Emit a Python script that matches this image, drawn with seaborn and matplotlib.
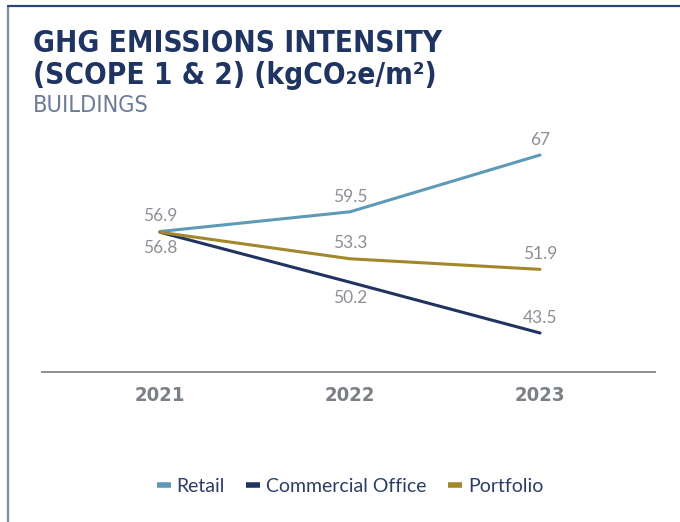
import matplotlib
matplotlib.use("Agg")
import matplotlib.pyplot as plt
from matplotlib.lines import Line2D
import seaborn as sns
import pandas as pd

years = ["2021", "2022", "2023"]
retail = [56.9, 59.5, 67.0]
commercial_office = [56.8, 50.2, 43.5]
portfolio = [56.8, 53.3, 51.9]

series_names = ["Retail", "Commercial Office", "Portfolio"]
series_colors = ["#5e9ab6", "#1f3461", "#a2882a"]

# label placement per series: +1 above the point, -1 below, 0 no label
label_side = {
    "Retail": [1, 1, 1],
    "Commercial Office": [-1, -1, 1],
    "Portfolio": [0, 1, 1],
}

rows = []
for name, vals in zip(series_names, [retail, commercial_office, portfolio]):
    for i, (yr, v) in enumerate(zip(years, vals)):
        rows.append({"Year": yr, "x": i, "Value": v, "Series": name})
df = pd.DataFrame(rows)

sns.set_theme(style="white")
plt.rcParams["font.family"] = ["Lato", "DejaVu Sans"]

fig = plt.figure(figsize=(6.8, 5.22), dpi=100)
ax = fig.add_axes([42 / 680, 1 - 372 / 522, 613 / 680, 242 / 522])

palette = dict(zip(series_names, series_colors))
sns.lineplot(data=df, x="x", y="Value", hue="Series", palette=palette,
             linewidth=2.2, ax=ax, legend=False, sort=False)

ax.set_xlim(-0.621, 2.605)
ax.set_ylim(38.35, 70.3)

for name, vals in zip(series_names, [retail, commercial_office, portfolio]):
    for i, v in enumerate(vals):
        side = label_side[name][i]
        if side == 0:
            continue
        ax.annotate(f"{v:g}", (i, v), xytext=(0, 11 * side),
                    textcoords="offset points", ha="center", va="center",
                    fontsize=12.5, color="#8c8f95")

cond = dict(family=["DejaVu Sans"], fontstretch="condensed")

for s in ["left", "right", "top"]:
    ax.spines[s].set_visible(False)
ax.spines["bottom"].set_color("#8c8f94")
ax.spines["bottom"].set_linewidth(1.4)
ax.set_yticks([])
ax.set_xticks(range(len(years)))
ax.set_xticklabels(years, fontsize=14.5, fontweight="bold", color="#7b7f86", **cond)
ax.tick_params(axis="x", length=0, pad=10)
ax.set_xlabel("")
ax.set_ylabel("")

# frame along the top and left edge
fig.add_artist(Line2D([8 / 680, 8 / 680], [0, 1 - 6 / 522],
                      color="#7f8aa3", lw=1.6, transform=fig.transFigure))
fig.add_artist(Line2D([8 / 680, 1], [1 - 6 / 522, 1 - 6 / 522],
                      color="#2b4479", lw=1.6, transform=fig.transFigure))

fig.text(33 / 680, 1 - 44 / 522, "GHG EMISSIONS INTENSITY", fontsize=21.3,
         fontweight="bold", color="#1f3461", va="center", **cond)
fig.text(33 / 680, 1 - 76 / 522, "(SCOPE 1 & 2) (kgCO\u2082e/m\u00b2)", fontsize=21.3,
         fontweight="bold", color="#1f3461", va="center", **cond)
fig.text(33 / 680, 1 - 106 / 522, "BUILDINGS", fontsize=16.8,
         color="#6e7b98", va="center", **cond)

handles = [Line2D([0], [0], color=c, lw=4, solid_capstyle="butt") for c in series_colors]
leg = fig.legend(handles, series_names, loc="center", bbox_to_anchor=(350 / 680, 1 - 486 / 522),
                 ncol=3, frameon=False, fontsize=14, handlelength=0.72,
                 handletextpad=0.3, columnspacing=1.1)
for t in leg.get_texts():
    t.set_color("#2c3e66")

fig.savefig("out.png", dpi=100)
